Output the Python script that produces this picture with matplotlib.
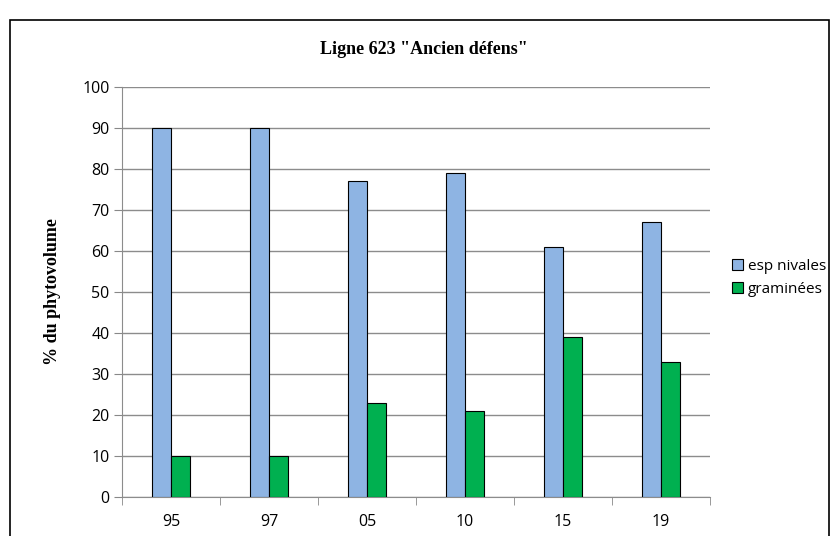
import matplotlib.pyplot as plt
import numpy as np
from matplotlib.patches import Rectangle

years = ['95', '97', '05', '10', '15', '19']
nivales = [90, 90, 77, 79, 61, 67]
graminees = [10, 10, 23, 21, 39, 33]

W, H = 834, 536
fig = plt.figure(figsize=(W / 100, H / 100), dpi=100)
ax = fig.add_axes([122 / W, 1 - 497 / H, (710 - 122) / W, (497 - 87) / H])

x = np.arange(len(years))
bw = 0.194
ax.bar(x - bw / 2, nivales, bw, color='#8eb4e3', edgecolor='black', linewidth=0.8,
       label='esp nivales', zorder=3)
ax.bar(x + bw / 2, graminees, bw, color='#00b050', edgecolor='black', linewidth=0.8,
       label='graminées', zorder=3)

ax.set_xlim(-0.5, len(years) - 0.5)
ax.set_ylim(0, 100)
ax.set_yticks(range(0, 101, 10))
ax.set_xticks(x)
ax.set_xticklabels(years)
ax.set_xticks(np.arange(-0.5, len(years)), minor=True)
ax.tick_params(axis='x', which='major', length=0, pad=12)
ax.tick_params(axis='x', which='minor', length=6, color='#888888')
ax.tick_params(axis='y', length=6, color='#888888', pad=3)
for lab in ax.get_xticklabels() + ax.get_yticklabels():
    lab.set_fontsize(11.5)
    lab.set_family('Open Sans')

ax.grid(axis='y', color='#8c8c8c', linewidth=1, zorder=0)
for s in ['top', 'right']:
    ax.spines[s].set_visible(False)
ax.spines['left'].set_color('#8c8c8c')
ax.spines['bottom'].set_color('#8c8c8c')

ax.set_ylabel('% du phytovolume', family='Liberation Serif', fontweight='bold',
              fontsize=13, labelpad=15)
fig.text(424 / W, 1 - 50 / H, 'Ligne 623 "Ancien défens"', family='Liberation Serif',
         fontweight='bold', fontsize=13, ha='center', va='center')

leg = ax.legend(loc='center left', bbox_to_anchor=(718 / W, 1 - 278 / H),
                bbox_transform=fig.transFigure, frameon=False,
                handlelength=0.75, handleheight=0.75, handletextpad=0.3, labelspacing=0.55,
                prop={'family': 'Open Sans', 'size': 11})
for p in leg.get_patches():
    p.set_linewidth(0.8)

fig.patches.append(Rectangle((10 / W, -0.1), (829 - 10) / W, 1.1 - 20 / H,
                             transform=fig.transFigure, fill=False,
                             edgecolor='black', linewidth=1.2))

fig.savefig('out.png', dpi=100)
